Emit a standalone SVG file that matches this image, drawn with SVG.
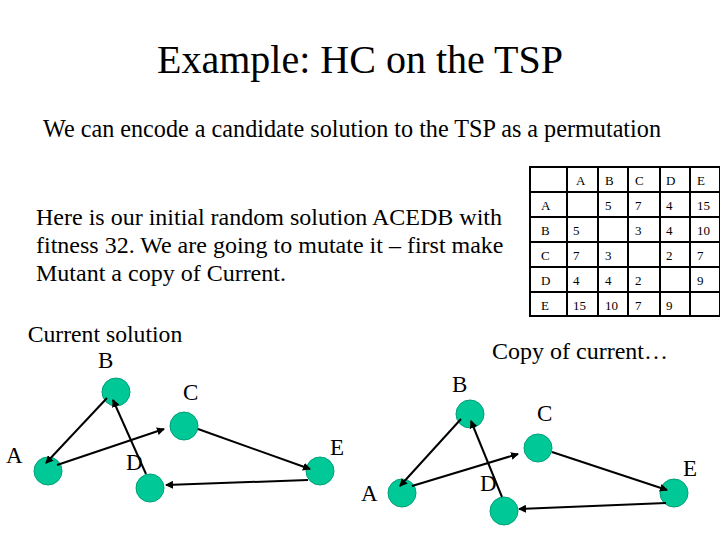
<svg xmlns="http://www.w3.org/2000/svg" width="720" height="540" viewBox="0 0 720 540">
<style>
text{font-family:"Liberation Serif","Times New Roman","DejaVu Serif",serif;fill:#000}
.t{font-size:13px}
.l{font-size:23px}
.n{fill:#00c896;stroke:#00a078;stroke-width:1}
.e{stroke:#000;stroke-width:2;fill:none;marker-end:url(#ah)}
.g{stroke:#000;stroke-width:2;fill:none}
</style>
<defs><marker id="ah" markerWidth="8" markerHeight="8" refX="7" refY="4" orient="auto" markerUnits="userSpaceOnUse"><path d="M0,0 L8,4 L0,8 z" fill="#000"/></marker></defs>
<rect width="720" height="540" fill="#fff"/>
<text x="360" y="73" font-size="40" text-anchor="middle">Example: HC on the TSP</text>
<text x="352" y="137" font-size="24.2" text-anchor="middle">We can encode a candidate solution to the TSP as a permutation</text>
<text font-size="24"><tspan x="36" y="225">Here is our initial random solution ACEDB with</tspan><tspan x="36" y="253">fitness 32. We are going to mutate it – first make</tspan><tspan x="36" y="281">Mutant a copy of Current.</tspan></text>
<text x="105" y="342" font-size="23.7" text-anchor="middle">Current solution</text>
<text x="492" y="359" font-size="24">Copy of current…</text>
<g id="table">
<rect x="530" y="167" width="190" height="149" class="g"/>
<path class="g" d="M567,167V316M598,167V316M628,167V316M660,167V316M690,167V316M530,192H720M530,217H720M530,242H720M530,267H720M530,292H720"/>
<g class="t">
<text x="576" y="185">A</text><text x="605" y="185">B</text><text x="635" y="185">C</text><text x="666" y="185">D</text><text x="697" y="185">E</text>
<text x="541" y="210">A</text><text x="605" y="210">5</text><text x="635" y="210">7</text><text x="666" y="210">4</text><text x="697" y="210">15</text>
<text x="541" y="235">B</text><text x="573" y="235">5</text><text x="635" y="235">3</text><text x="666" y="235">4</text><text x="697" y="235">10</text>
<text x="541" y="260">C</text><text x="573" y="260">7</text><text x="605" y="260">3</text><text x="666" y="260">2</text><text x="697" y="260">7</text>
<text x="541" y="285">D</text><text x="573" y="285">4</text><text x="605" y="285">4</text><text x="635" y="285">2</text><text x="697" y="285">9</text>
<text x="541" y="310">E</text><text x="573" y="310">15</text><text x="605" y="310">10</text><text x="635" y="310">7</text><text x="666" y="310">9</text>
</g>
</g>
<g id="left-nodes">
<g id="LB"><circle class="n" cx="116" cy="392" r="14"/><text class="l" x="98" y="368">B</text></g>
<g id="LC"><circle class="n" cx="184" cy="426" r="14"/><text class="l" x="183" y="400">C</text></g>
<g id="LA"><circle class="n" cx="48" cy="471" r="14"/><text class="l" x="6" y="463">A</text></g>
<g id="LD"><circle class="n" cx="150" cy="488" r="14"/><text class="l" x="126" y="470">D</text></g>
<g id="LE"><circle class="n" cx="320" cy="471" r="14"/><text class="l" x="330" y="455">E</text></g>
</g>
<g id="right-nodes">
<g id="RB"><circle class="n" cx="470" cy="414" r="14"/><text class="l" x="452" y="392">B</text></g>
<g id="RC"><circle class="n" cx="538" cy="448" r="14"/><text class="l" x="537" y="421">C</text></g>
<g id="RA"><circle class="n" cx="402" cy="493" r="14"/><text class="l" x="361" y="501">A</text></g>
<g id="RD"><circle class="n" cx="504" cy="511" r="14"/><text class="l" x="480" y="491">D</text></g>
<g id="RE"><circle class="n" cx="674" cy="493" r="14"/><text class="l" x="683" y="476">E</text></g>
</g>
<g id="connectors">
<path class="e" d="M107,398L46,463"/>
<path class="e" d="M57,465L164,429"/>
<path class="e" d="M146,474L113,400"/>
<path class="e" d="M198,429L310,469"/>
<path class="e" d="M308,480L166,485"/>
<path class="e" d="M461,419L400,486"/>
<path class="e" d="M412,486L518,454"/>
<path class="e" d="M502,497L471,421"/>
<path class="e" d="M552,452L667,490"/>
<path class="e" d="M666,503L519,509"/>
</g>
</svg>
